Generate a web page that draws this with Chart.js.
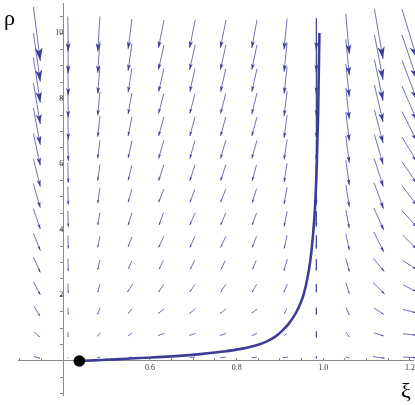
<!DOCTYPE html>
<html>
<head>
<meta charset="utf-8">
<script src="https://cdn.jsdelivr.net/npm/chart.js@4.4.1/dist/chart.umd.min.js"></script>
<style>
  html,body{margin:0;padding:0;background:#fff;}
  #wrap{width:415px;height:405px;}
</style>
</head>
<body>
<div id="wrap"><canvas id="fieldChart" width="415" height="405"></canvas></div>
<script>
// grid of arrow centres
const xiCols = [0.339, 0.411, 0.482, 0.554, 0.626, 0.698, 0.769, 0.841, 0.913, 0.984, 1.056, 1.128, 1.199];
const rhoRows = [0.11, 0.81, 1.52, 2.22, 2.93, 3.63, 4.33, 5.04, 5.74, 6.45, 7.15, 7.85, 8.56, 9.26, 9.97];

// arrow extent in xi, one row per rhoRows entry (bottom to top)
const dXi = [
  [0.015, 0,     -0.007, -0.007, -0.012, -0.012, -0.012, -0.012, -0.012, 0, 0.009, 0.027, 0.030],
  [0.013, 0.001, -0.006, -0.009, -0.014, -0.014, -0.014, -0.012, -0.006, 0, 0.008, 0.023, 0.030],
  [0.014, 0.001, -0.005, -0.009, -0.014, -0.014, -0.014, -0.012, -0.006, 0, 0.008, 0.023, 0.030],
  [0.016, 0.001, -0.005, -0.012, -0.012, -0.012, -0.012, -0.010, -0.008, 0, 0.008, 0.027, 0.030],
  [0.016, 0.001, -0.005, -0.008, -0.010, -0.010, -0.010, -0.008, -0.008, 0, 0.008, 0.025, 0.032],
  [0.016, 0.001, -0.005, -0.009, -0.012, -0.012, -0.012, -0.010, -0.007, 0, 0.008, 0.023, 0.032],
  [0.016, 0.001, -0.005, -0.009, -0.010, -0.012, -0.012, -0.010, -0.007, 0, 0.008, 0.023, 0.035],
  [0.016, 0.001, -0.005, -0.009, -0.012, -0.012, -0.012, -0.010, -0.007, 0, 0.008, 0.022, 0.035],
  [0.016, 0.001, -0.005, -0.009, -0.012, -0.012, -0.012, -0.010, -0.007, 0, 0.008, 0.021, 0.035],
  [0.016, 0.001, -0.005, -0.009, -0.012, -0.012, -0.012, -0.012, -0.007, 0, 0.008, 0.020, 0.035],
  [0.016, 0.001, -0.005, -0.009, -0.012, -0.012, -0.012, -0.012, -0.007, 0, 0.008, 0.020, 0.035],
  [0.016, 0.001, -0.005, -0.009, -0.012, -0.012, -0.012, -0.012, -0.007, 0, 0.008, 0.020, 0.035],
  [0.016, 0.001, -0.005, -0.009, -0.012, -0.012, -0.012, -0.012, -0.007, 0, 0.008, 0.020, 0.035],
  [0.016, 0.001, -0.005, -0.009, -0.013, -0.013, -0.013, -0.012, -0.007, 0, 0.008, 0.020, 0.035],
  [0.016, 0.001, -0.005, -0.009, -0.013, -0.013, -0.013, -0.012, -0.007, 0, 0.008, 0.020, 0.035]
];

// arrow extent in rho, same layout
const dRho = [
  [-0.05, -0.01, -0.02, -0.03, -0.02, -0.02, -0.02, -0.02, -0.02, -0.06, -0.04, -0.05, -0.02],
  [-0.15, -0.15, -0.12, -0.10, -0.06, -0.06, -0.06, -0.08, -0.06, -0.18, -0.15, -0.10, -0.04],
  [-0.30, -0.21, -0.20, -0.15, -0.15, -0.15, -0.15, -0.12, -0.17, -0.21, -0.24, -0.20, -0.10],
  [-0.40, -0.30, -0.24, -0.24, -0.23, -0.23, -0.23, -0.23, -0.25, -0.24, -0.34, -0.35, -0.20],
  [-0.46, -0.37, -0.30, -0.24, -0.27, -0.27, -0.27, -0.27, -0.36, -0.34, -0.40, -0.40, -0.27],
  [-0.52, -0.40, -0.34, -0.30, -0.34, -0.34, -0.34, -0.34, -0.40, -0.40, -0.49, -0.61, -0.43],
  [-0.61, -0.49, -0.37, -0.37, -0.37, -0.37, -0.37, -0.37, -0.46, -0.46, -0.55, -0.67, -0.52],
  [-0.73, -0.55, -0.46, -0.40, -0.40, -0.40, -0.40, -0.43, -0.52, -0.52, -0.67, -0.79, -0.61],
  [-0.85, -0.61, -0.49, -0.46, -0.49, -0.49, -0.49, -0.49, -0.58, -0.58, -0.76, -0.85, -0.67],
  [-0.98, -0.70, -0.55, -0.52, -0.55, -0.55, -0.55, -0.55, -0.61, -0.64, -0.82, -0.91, -0.76],
  [-1.13, -0.79, -0.64, -0.58, -0.58, -0.58, -0.58, -0.58, -0.70, -0.70, -0.88, -1.01, -0.91],
  [-1.25, -0.85, -0.73, -0.64, -0.61, -0.61, -0.61, -0.64, -0.76, -0.76, -0.95, -1.13, -1.07],
  [-1.37, -0.91, -0.82, -0.73, -0.70, -0.70, -0.70, -0.70, -0.82, -0.82, -1.01, -1.25, -1.22],
  [-1.49, -0.98, -0.95, -0.82, -0.76, -0.76, -0.76, -0.76, -0.88, -0.88, -1.10, -1.37, -1.37],
  [-1.65, -1.07, -1.07, -0.91, -0.85, -0.85, -0.85, -0.85, -0.95, -0.95, -1.22, -1.52, -1.52]
];

// trajectory
const curveXi  = [0.437, 0.47, 0.52, 0.577, 0.65, 0.716, 0.77, 0.81, 0.846, 0.87, 0.89, 0.905, 0.92, 0.932, 0.942, 0.954, 0.963, 0.97, 0.976, 0.981, 0.985, 0.988, 0.991];
const curveRho = [0, 0.02, 0.05, 0.09, 0.14, 0.21, 0.29, 0.37, 0.48, 0.6, 0.75, 0.92, 1.13, 1.36, 1.6, 2.0, 2.5, 3.05, 3.8, 4.7, 6.0, 7.5, 10.0];

// fixed point
const startPoint = [0.437, 0];

const xLabels = [0.6, 0.8, 1.0, 1.2];
const yLabels = [2, 4, 6, 8, 10];

const fieldColor = 'rgb(61,61,153)';

// build arrows (centred on grid points)
const arrows = [];
rhoRows.forEach((rho, r) => {
  xiCols.forEach((xi, c) => {
    const u = dXi[r][c], v = dRho[r][c];
    arrows.push({x0: xi - u / 2, y0: rho - v / 2, x1: xi + u / 2, y1: rho + v / 2});
  });
});
const shaftPoints = [];
arrows.forEach(a => {
  shaftPoints.push({x: a.x0, y: a.y0}, {x: a.x1, y: a.y1}, {x: a.x1, y: null});
});

// arrow heads, drawn right after the shafts
const arrowHeads = {
  id: 'arrowHeads',
  afterDatasetDraw(chart, args) {
    if (args.index !== 0) return;
    const {ctx} = chart;
    const xs = chart.scales.x, ys = chart.scales.y;
    ctx.save();
    ctx.fillStyle = fieldColor;
    arrows.forEach(a => {
      const px0 = xs.getPixelForValue(a.x0), py0 = ys.getPixelForValue(a.y0);
      const px1 = xs.getPixelForValue(a.x1), py1 = ys.getPixelForValue(a.y1);
      const dx = px1 - px0, dy = py1 - py0;
      const len = Math.hypot(dx, dy);
      if (len < 1.5) return;
      const ux = dx / len, uy = dy / len;
      const h = len * 0.24, w = h * 0.3;
      ctx.beginPath();
      ctx.moveTo(px1, py1);
      ctx.lineTo(px1 - ux * h - uy * w, py1 - uy * h + ux * w);
      ctx.lineTo(px1 - ux * h * 0.75, py1 - uy * h * 0.75);
      ctx.lineTo(px1 - ux * h + uy * w, py1 - uy * h - ux * w);
      ctx.closePath();
      ctx.fill();
    });
    ctx.restore();
  }
};

// axis names
const axisNames = {
  id: 'axisNames',
  afterDraw(chart) {
    const {ctx} = chart;
    ctx.save();
    ctx.fillStyle = '#000';
    ctx.font = '22px "Liberation Serif"';
    ctx.textBaseline = 'alphabetic';
    ctx.textAlign = 'left';
    ctx.fillText('ρ', 4, 25);
    ctx.fillText('ξ', 401, 398);
    ctx.restore();
  }
};

const isLabel = (list, v) => list.some(t => Math.abs(t - v) < 1e-6);

new Chart(document.getElementById('fieldChart'), {
  type: 'scatter',
  data: {
    datasets: [
      {
        data: shaftPoints,
        showLine: true,
        spanGaps: false,
        borderColor: 'rgba(61,61,153,0.72)',
        borderWidth: 1,
        pointRadius: 0,
        clip: false,
        order: 3
      },
      {
        data: curveXi.map((x, i) => ({x: x, y: curveRho[i]})),
        showLine: true,
        borderColor: fieldColor,
        borderWidth: 2.6,
        pointRadius: 0,
        cubicInterpolationMode: 'monotone',
        order: 2
      },
      {
        data: [{x: startPoint[0], y: startPoint[1]}],
        pointRadius: 5.8,
        pointBackgroundColor: '#000',
        pointBorderColor: '#000',
        pointBorderWidth: 0,
        clip: false,
        order: 1
      }
    ]
  },
  options: {
    responsive: false,
    animation: false,
    layout: {autoPadding: false, padding: {left: 18, right: 2, top: 3, bottom: 10}},
    plugins: {legend: {display: false}, tooltip: {enabled: false}},
    scales: {
      x: {
        type: 'linear',
        min: 0.2955,
        max: 1.207,
        position: {y: 0},
        afterFit: s => { s.paddingLeft = 0; s.paddingRight = 0; },
        border: {display: true, color: '#8a8a8a', width: 1},
        grid: {drawOnChartArea: false, drawTicks: true, tickLength: -3, color: '#8a8a8a'},
        ticks: {
          stepSize: 0.05,
          includeBounds: false,
          autoSkip: false,
          maxRotation: 0,
          padding: 5,
          color: '#333',
          font: {family: 'Liberation Serif', size: 8},
          callback: v => isLabel(xLabels, v) ? v.toFixed(1) : ''
        }
      },
      y: {
        type: 'linear',
        min: -1.037,
        max: 10.915,
        position: {x: 0.4},
        afterFit: s => { s.paddingTop = 0; s.paddingBottom = 0; },
        border: {display: true, color: '#8a8a8a', width: 1},
        grid: {drawOnChartArea: false, drawTicks: true, tickLength: 3, color: '#8a8a8a'},
        ticks: {
          stepSize: 0.5,
          includeBounds: false,
          autoSkip: false,
          padding: 1,
          color: '#333',
          font: {family: 'Liberation Serif', size: 8},
          callback: v => isLabel(yLabels, v) ? String(v) : ''
        }
      }
    }
  },
  plugins: [arrowHeads, axisNames]
});
</script>
</body>
</html>
